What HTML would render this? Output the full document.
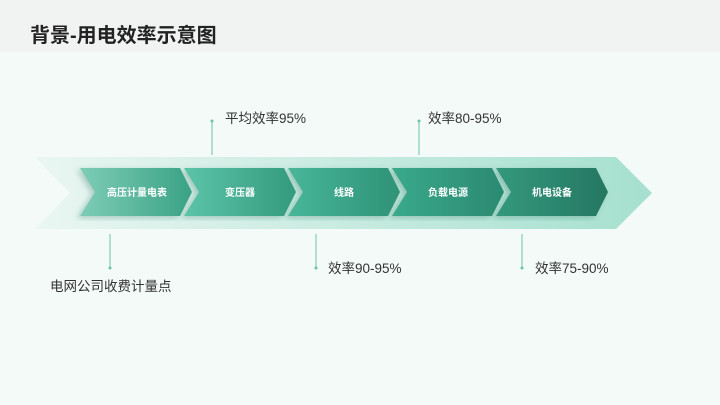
<!DOCTYPE html>
<html><head><meta charset="utf-8"><style>
body{margin:0;width:720px;height:405px;background:#f4faf8;font-family:"Liberation Sans","Noto Sans CJK SC",sans-serif;position:relative;overflow:hidden}
.hdr{position:absolute;left:0;top:0;width:720px;height:52px;background:#f1f2f2}
.t{position:absolute;left:30px;top:19px;font-size:20px;font-weight:bold;color:#222}
.l{position:absolute;font-size:13.5px;color:#333}
</style></head><body>
<div class="hdr"></div><div class="t">背景-用电效率示意图</div>
<svg width="720" height="405" style="position:absolute;left:0;top:0">
<defs>
<linearGradient id="bg" x1="0" x2="1"><stop offset="0" stop-color="#eaf6f2"/><stop offset="1" stop-color="#a6e0cf"/></linearGradient>
<linearGradient id="c1" x1="0" x2="1"><stop offset="0" stop-color="#7dcdb5"/><stop offset="1" stop-color="#3aa285"/></linearGradient>
<linearGradient id="c2" x1="0" x2="1"><stop offset="0" stop-color="#5cc4a8"/><stop offset="1" stop-color="#349a7e"/></linearGradient>
<linearGradient id="c3" x1="0" x2="1"><stop offset="0" stop-color="#48b699"/><stop offset="1" stop-color="#2f9277"/></linearGradient>
<linearGradient id="c4" x1="0" x2="1"><stop offset="0" stop-color="#3aa98b"/><stop offset="1" stop-color="#2b8a70"/></linearGradient>
<linearGradient id="c5" x1="0" x2="1"><stop offset="0" stop-color="#34987c"/><stop offset="1" stop-color="#257762"/></linearGradient>
<filter id="sh"><feDropShadow dx="-3" dy="2" stdDeviation="3" flood-color="#1b6b55" flood-opacity="0.3"/></filter>
</defs>
<polygon points="35,157 616,157 652,193 616,229 35,229 70,193" fill="url(#bg)"/>
<g filter="url(#sh)">
<polygon points="80,168 180,168 192,192 180,216 80,216 95,192" fill="url(#c1)"/>
<polygon points="184,168 284,168 296,192 284,216 184,216 199,192" fill="url(#c2)"/>
<polygon points="288,168 388,168 400,192 388,216 288,216 303,192" fill="url(#c3)"/>
<polygon points="392,168 492,168 504,192 492,216 392,216 407,192" fill="url(#c4)"/>
<polygon points="496,168 596,168 608,192 596,216 496,216 511,192" fill="url(#c5)"/>
</g>
<g font-size="10" font-weight="bold" fill="#fff" text-anchor="middle" font-family="Liberation Sans, Noto Sans CJK SC, sans-serif">
<text x="137" y="196">高压计量电表</text><text x="240" y="196">变压器</text><text x="344" y="196">线路</text><text x="448" y="196">负载电源</text><text x="552" y="196">机电设备</text>
</g>
<g stroke="#6cc3aa" stroke-width="1">
<line x1="212" y1="121" x2="212" y2="155"/><line x1="419" y1="121" x2="419" y2="155"/>
<line x1="110" y1="234" x2="110" y2="268"/><line x1="316" y1="234" x2="316" y2="268"/><line x1="522" y1="234" x2="522" y2="268"/>
</g>
<g fill="#6cc3aa"><circle cx="212" cy="121" r="1.5"/><circle cx="419" cy="121" r="1.5"/><circle cx="110" cy="268" r="1.5"/><circle cx="316" cy="268" r="1.5"/><circle cx="522" cy="268" r="1.5"/></g>
</svg>
<div class="l" style="left:225px;top:107px">平均效率95%</div>
<div class="l" style="left:428px;top:107px">效率80-95%</div>
<div class="l" style="left:50px;top:275px">电网公司收费计量点</div>
<div class="l" style="left:328px;top:257px">效率90-95%</div>
<div class="l" style="left:535px;top:257px">效率75-90%</div>
</body></html>
